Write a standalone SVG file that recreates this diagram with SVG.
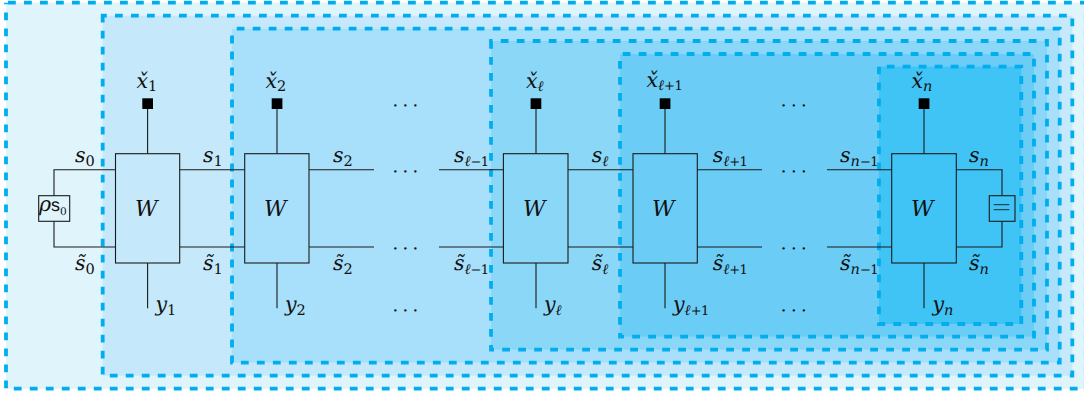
<svg xmlns="http://www.w3.org/2000/svg" width="1084" height="398" viewBox="0 0 1084 398">
<style>
.r{stroke:#00aeef;stroke-width:3.8;stroke-dasharray:7.8 8.2}
.w{fill:none;stroke:#1a1a1a;stroke-width:1.1}
.b{fill:none;stroke:#1a1a1a;stroke-width:1.1}
.sq{fill:#000}
text{font-family:"DejaVu Serif",serif;font-style:italic;font-size:20.5px;fill:#111;text-rendering:geometricPrecision}
.s{font-size:14.5px;font-style:normal}
.si{font-size:14.5px;font-style:italic}
.c{font-size:13px;font-style:normal;letter-spacing:-.6px}
.W{font-size:22px}
.d{font-style:normal;font-size:20px;font-family:"Liberation Serif",serif}
.e{stroke:#1a1a1a;stroke-width:.9}
</style>
<g id="regions">
<rect class="r" x="6" y="2.7" width="1079.8" height="386" fill="#e0f4fc" stroke-dashoffset="14"/>
<rect class="r" x="102.7" y="15.7" width="969.6" height="360" fill="#c5e9fa" stroke-dashoffset="3.7"/>
<rect class="r" x="232" y="28.7" width="827.7" height="334" fill="#a8dffb" stroke-dashoffset="11.3"/>
<rect class="r" x="491" y="41" width="556" height="308.7" fill="#8bd7f8" stroke-dashoffset="6.3"/>
<rect class="r" x="620" y="54" width="414" height="282.7" fill="#6bcdf6" stroke-dashoffset="13.3"/>
<rect class="r" x="879" y="66.7" width="142.3" height="257.3" fill="#40c4f5" stroke-dashoffset="8.3"/>
</g>
<g id="connectors">
<path class="w" d="M54 195.7V169.7H115.5M54 221.3V247H115.5"/>
<path class="w" d="M179.7 169.7H244.7M179.7 247H244.7M309 169.7H374M309 247H374M439 169.7H503.4M439 247H503.4M568 169.7H633M568 247H633M697.3 169.7H762M697.3 247H762M827 169.7H891.7M827 247H891.7"/>
<path class="w" d="M956.3 169.7H1002V195.7M956.3 247H1002V221.3"/>
<path class="w" d="M147.6 109V153.7M147.6 263V308.3M277 109V153.7M277 263V308.3M536 109V153.7M536 263V308.3M665 109V153.7M665 263V308.3M924 109V153.7M924 263V308.3"/>
</g>
<g id="source"><rect class="b" x="38.7" y="195.7" width="31" height="25.6"/><text x="39" y="211">ρ<tspan style="font-family:'Liberation Sans',sans-serif;font-style:normal;font-size:18px">s</tspan><tspan style="font-size:10.5px;font-style:normal" dy="4">0</tspan></text></g>
<g id="trace"><rect class="b" x="989.3" y="195.7" width="25.7" height="25.6"/><path class="e" d="M993.7 204.7H1009.3M993.7 209.7H1009.3"/></g>
<g id="w1"><rect class="b" x="115.5" y="153.7" width="64.2" height="109.3"/><text class="W" x="135" y="215.5">W</text><rect class="sq" x="142.3" y="98.3" width="10.7" height="10.7"/><text x="136.5" y="88.3">x̌<tspan class="s" dy="3">1</tspan></text><text x="155.5" y="311">y<tspan class="s" dy="4">1</tspan></text></g>
<g id="w2"><rect class="b" x="244.7" y="153.7" width="64.3" height="109.3"/><text class="W" x="264" y="215.5">W</text><rect class="sq" x="271.7" y="98.3" width="10.7" height="10.7"/><text x="265.5" y="88.3">x̌<tspan class="s" dy="3">2</tspan></text><text x="285" y="311">y<tspan class="s" dy="4">2</tspan></text></g>
<g id="wl"><rect class="b" x="503.4" y="153.7" width="64.6" height="109.3"/><text class="W" x="523" y="215.5">W</text><rect class="sq" x="530.6" y="98.3" width="10.7" height="10.7"/><text x="526" y="88.3">x̌<tspan class="si" dy="3">ℓ</tspan></text><text x="544" y="311">y<tspan class="si" dy="4">ℓ</tspan></text></g>
<g id="wl1"><rect class="b" x="633" y="153.7" width="64.3" height="109.3"/><text class="W" x="652" y="215.5">W</text><rect class="sq" x="659.7" y="98.3" width="10.7" height="10.7"/><text x="646.5" y="86.5">x̌<tspan class="si" dy="3">ℓ</tspan><tspan class="c">+1</tspan></text><text x="673" y="311">y<tspan class="si" dy="4">ℓ</tspan><tspan class="c">+1</tspan></text></g>
<g id="wn"><rect class="b" x="891.7" y="153.7" width="64.6" height="109.3"/><text class="W" x="911" y="215.5">W</text><rect class="sq" x="918.7" y="98.3" width="10.7" height="10.7"/><text x="911.5" y="88.3">x̌<tspan class="si" dy="3">n</tspan></text><text x="932.5" y="311">y<tspan class="si" dy="4">n</tspan></text></g>
<g id="labels">
<text x="75" y="161.7">s<tspan class="s" dy="4">0</tspan></text>
<text x="75" y="270.3">s̃<tspan class="s" dy="4">0</tspan></text>
<text x="203" y="161.7">s<tspan class="s" dy="4">1</tspan></text>
<text x="203" y="270.3">s̃<tspan class="s" dy="4">1</tspan></text>
<text x="333" y="161.7">s<tspan class="s" dy="4">2</tspan></text>
<text x="333" y="270.3">s̃<tspan class="s" dy="4">2</tspan></text>
<text x="454" y="161.7">s<tspan class="si" dy="4">ℓ</tspan><tspan class="c">−1</tspan></text>
<text x="454" y="270.3">s̃<tspan class="si" dy="4">ℓ</tspan><tspan class="c">−1</tspan></text>
<text x="591.7" y="161.7">s<tspan class="si" dy="4">ℓ</tspan></text>
<text x="591.7" y="270.3">s̃<tspan class="si" dy="4">ℓ</tspan></text>
<text x="712.7" y="161.7">s<tspan class="si" dy="4">ℓ</tspan><tspan class="c">+1</tspan></text>
<text x="712.7" y="270.3">s̃<tspan class="si" dy="4">ℓ</tspan><tspan class="c">+1</tspan></text>
<text x="840" y="161.7">s<tspan class="si" dy="4">n</tspan><tspan class="c">−1</tspan></text>
<text x="840" y="270.3">s̃<tspan class="si" dy="4">n</tspan><tspan class="c">−1</tspan></text>
<text x="969" y="161.7">s<tspan class="si" dy="4">n</tspan></text>
<text x="969" y="270.3">s̃<tspan class="si" dy="4">n</tspan></text>
<text class="d" x="392 402 412" y="112">···</text>
<text class="d" x="392 402 412" y="178">···</text>
<text class="d" x="392 402 412" y="255">···</text>
<text class="d" x="392 402 412" y="317">···</text>
<text class="d" x="780.3 790.5 800.5" y="112">···</text>
<text class="d" x="780.3 790.5 800.5" y="178">···</text>
<text class="d" x="780.3 790.5 800.5" y="255">···</text>
<text class="d" x="780.3 790.5 800.5" y="317">···</text>
</g>
</svg>
